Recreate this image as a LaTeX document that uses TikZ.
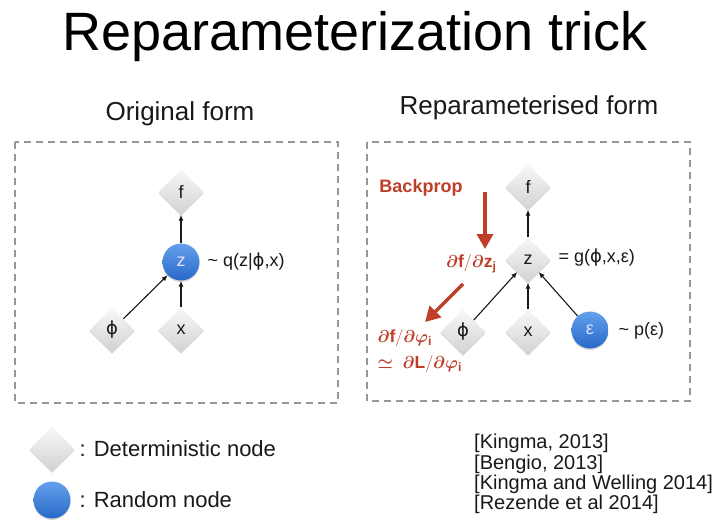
\documentclass[tikz,border=0pt]{standalone}
\usepackage{fontspec}
\setmainfont{Liberation Sans}
\newfontfamily\dvs{DejaVu Sans}
\usepackage{amsmath,bm}
\usetikzlibrary{shapes.geometric,shadows,arrows.meta}
\definecolor{bpred}{RGB}{190,62,40}
\definecolor{boxgray}{RGB}{150,150,150}
\definecolor{txt}{RGB}{25,25,25}
\definecolor{blueA}{RGB}{100,160,235}
\definecolor{blueB}{RGB}{40,105,200}
\newcommand{\vphi}{{\dvs ϕ}}
\tikzset{
  det/.style={shape=diamond, aspect=1, minimum size=45pt, inner sep=0pt,
    top color=gray!6, bottom color=gray!35, draw=none,
    drop shadow={shadow xshift=0pt, shadow yshift=-1.5pt, opacity=0.3},
    font=\fontsize{18}{18}\selectfont, text=txt},
  rnd/.style={circle, minimum size=37pt, inner sep=0pt,
    top color=blueA, bottom color=blueB, draw=none,
    drop shadow={shadow xshift=0pt, shadow yshift=-1.5pt, opacity=0.3},
    font=\fontsize{18}{18}\selectfont, text=white!88!blue},
  arr/.style={-{Latex[length=6pt,width=5pt]}, line width=1.1pt, draw=txt},
  redarr/.style={-{Triangle[length=15pt,width=16pt]}, line width=3.5pt, draw=bpred},
  dbox/.style={draw=boxgray, line width=1.2pt, dash pattern=on 7pt off 5pt},
  lbl/.style={anchor=west, font=\fontsize{18}{18}\selectfont, text=txt},
  redtxt/.style={text=bpred, font=\fontsize{17.5}{20}\selectfont},
}
\begin{document}
\begin{tikzpicture}[x=1pt,y=-1pt]
\useasboundingbox[fill=white] (0,0) rectangle (719,527);

\node[font=\fontsize{54}{54}\selectfont, text=black] (title) at (355,37) {Reparameterization trick};
\node[font=\fontsize{26}{26}\selectfont, text=txt] (t1) at (180,114) {Original form};
\node[font=\fontsize{26}{26}\selectfont, text=txt] (t2) at (529,108) {Reparameterised form};

% boxes
\draw[dbox] (15,142) rectangle (338,403);
\draw[dbox] (367,142) rectangle (690,401);

% left graph
\node[det] (fL) at (181,192) {f};
\node[rnd] (zL) at (181,262) {z};
\node[det] (phiL) at (112,330) {\vphi};
\node[det] (xL) at (181,330) {x};
\node[lbl] (qL) at (204,262) {\char"007E\ q(z|\vphi,x)};
\draw[arr] (zL) -- (fL);
\draw[arr] (phiL) -- (zL);
\draw[arr] (xL) -- (zL);

% right graph
\node[det] (fR) at (528,187) {f};
\node[det] (zR) at (528,260) {z};
\node[det] (phiR) at (463,332) {\vphi};
\node[det] (xR) at (528,332) {x};
\node[rnd] (eR) at (590,330) {ε};
\node[lbl] (gR) at (555,258) {= g(\vphi,x,ε)};
\node[lbl] (pR) at (615,331) {\char"007E\ p(ε)};
\draw[arr] (zR) -- (fR);
\draw[arr] (phiR) -- (zR);
\draw[arr] (xR) -- (zR);
\draw[arr] (eR) -- (zR);

% backprop
\node[text=bpred, font=\fontsize{18}{18}\selectfont\bfseries] (bp) at (421,188) {Backprop};
\coordinate (a1s) at (485,192);
\coordinate (a1e) at (485,249);
\draw[redarr] (a1s) -- (a1e);
\node[redtxt, anchor=east] (dz) at (500,264) {$\bm{\partial}\mathbf{f}/\bm{\partial}\mathbf{z}_{\mathbf{j}}$};
\coordinate (a2s) at (463,284);
\coordinate (a2e) at (425,322);
\draw[redarr] (a2s) -- (a2e);
\node[redtxt, anchor=west] (dphi) at (374,338) {$\bm{\partial}\mathbf{f}/\bm{\partial}\bm{\varphi}_{\mathbf{i}}$};
\node[redtxt, anchor=west] (dL) at (374,364) {$\bm{\simeq}\ \bm{\partial}\mathbf{L}/\bm{\partial}\bm{\varphi}_{\mathbf{i}}$};

% legend
\node[det] (legD) at (52,449) {};
\node[rnd] (legR) at (52,500) {};
\node[anchor=west, font=\fontsize{22}{22}\selectfont, text=txt] (legDt) at (76,449) {: Deterministic node};
\node[anchor=west, font=\fontsize{22}{22}\selectfont, text=txt] (legRt) at (76,500) {: Random node};

% references
\node[anchor=north west, align=left, inner sep=0pt, font=\fontsize{20}{20.3}\selectfont, text=txt] (refs) at (474,434)
 {{[}Kingma, 2013{]}\\ {[}Bengio, 2013{]}\\ {[}Kingma and Welling 2014{]}\\ {[}Rezende et al 2014{]}};
\end{tikzpicture}
\end{document}
